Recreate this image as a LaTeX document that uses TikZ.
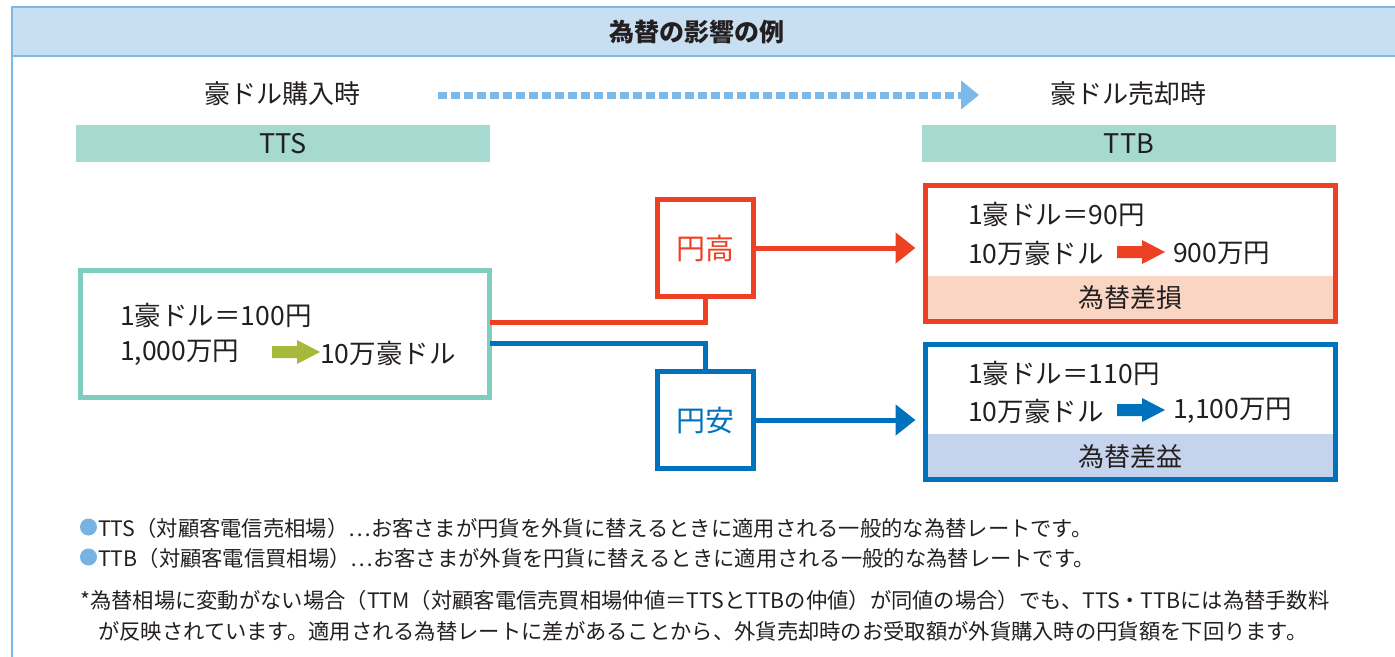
\documentclass[tikz,border=0pt]{standalone}
\usepackage{fontspec}
\setmainfont{Noto Sans CJK JP}
\usetikzlibrary{arrows.meta}
\definecolor{frameblue}{HTML}{7DB9E8}
\definecolor{titlefill}{HTML}{C8DFF1}
\definecolor{tealbar}{HTML}{A6D9CF}
\definecolor{tealline}{HTML}{7FCDBF}
\definecolor{jred}{HTML}{EE4123}
\definecolor{jblue}{HTML}{0071BC}
\definecolor{jgreen}{HTML}{A8B83A}
\definecolor{lossfill}{HTML}{FBD5C3}
\definecolor{gainfill}{HTML}{C5D3EC}
\definecolor{txt}{HTML}{231F20}
\definecolor{bullet}{HTML}{76B3E3}
\tikzset{
  t26/.style={font=\fontsize{26}{30}\selectfont, text=txt, inner sep=0pt},
  t21/.style={font=\fontsize{21.3}{24}\selectfont, text=txt, inner sep=0pt, anchor=west},
  lbl/.style={font=\fontsize{26.5}{30}\selectfont, text=txt, inner sep=0pt, anchor=west},
  redbox/.style={draw=jred, line width=5pt, minimum width=96pt, minimum height=97pt, inner sep=0pt, outer sep=0pt},
  bluebox/.style={draw=jblue, line width=5pt, minimum width=96pt, minimum height=97pt, inner sep=0pt, outer sep=0pt},
  conn/.style={line width=5pt, -{Triangle[length=20pt,width=30pt]}},
}
\newcommand{\fatarrow}[3]{% x-left, y-center, colour
  \fill[#3] (#1,#2-6) -- (#1+25,#2-6) -- (#1+25,#2-12) -- (#1+48,#2) -- (#1+25,#2+12) -- (#1+25,#2+6) -- (#1,#2+6) -- cycle;}
\begin{document}
\begin{tikzpicture}[x=1pt,y=-1pt]
\useasboundingbox (0,0) rectangle (1395,656);
\clip (0,0) rectangle (1395,656);
% frame and title bar
\draw[frameblue, line width=2pt] (12,700) -- (12,7);
\filldraw[fill=titlefill, draw=frameblue, line width=2pt] (12,7) rectangle (1420,56);
\node[font=\fontsize{25}{30}\selectfont\bfseries, text=txt] (title) at (697,32) {為替の影響の例};
% phase labels
\node[t26] (buy) at (282,94) {豪ドル購入時};
\node[t26] (sell) at (1128,94) {豪ドル売却時};
\coordinate (da) at (438,95);
\coordinate (db) at (979,95);
\draw[frameblue, line width=7pt, dash pattern=on 9pt off 4pt, -{Triangle[length=18pt,width=28pt]}] (da) -- (db);
% TTS / TTB bars
\fill[tealbar] (76,125) rectangle (490,162);
\node[font=\fontsize{27}{30}\selectfont, text=txt] (tts) at (283,144) {TTS};
\fill[tealbar] (922,125) rectangle (1336,162);
\node[font=\fontsize{27}{30}\selectfont, text=txt] (ttb) at (1129,144) {TTB};
% left box
\node[draw=tealline, line width=5pt, minimum width=409pt, minimum height=127pt, outer sep=0pt] (L) at (285,334) {};
\node[lbl] (l1) at (120,315) {1豪ドル＝100円};
\node[lbl] (l2a) at (120,353) {1,000万円};
\fatarrow{272}{352}{jgreen}
\node[lbl] (l2b) at (320,353) {10万豪ドル};
% middle boxes
\node[redbox] (H) at (705.5,248) {};
\node[font=\fontsize{29}{32}\selectfont, text=jred] at (H) {円高};
\node[bluebox] (Y) at (705.5,420) {};
\node[font=\fontsize{29}{32}\selectfont, text=jblue] at (Y) {円安};
% connectors from left box
\draw[jred, line width=5pt] ([yshift=12pt]L.east) -| (H.south);
\draw[jblue, line width=5pt] ([yshift=-9pt]L.east) -| (Y.north);
% right boxes
\fill[lossfill] (925,276) rectangle (1336,321);
\node[draw=jred, line width=5pt, minimum width=410pt, minimum height=136pt, outer sep=0pt] (RH) at (1130.5,253.5) {};
\fill[gainfill] (925,434) rectangle (1336,479);
\node[draw=jblue, line width=5pt, minimum width=410pt, minimum height=135pt, outer sep=0pt] (RY) at (1130.5,412) {};
\draw[conn, jred] (H.east) -- ([xshift=-10pt]H.east -| RH.west);
\draw[conn, jblue] (Y.east) -- ([xshift=-10pt]Y.east -| RY.west);
% right red box text
\node[lbl] (r1) at (968,214) {1豪ドル＝90円};
\node[lbl] (r2a) at (968,253) {10万豪ドル};
\fatarrow{1117}{252}{jred}
\node[lbl] (r2b) at (1173,253) {900万円};
\node[t26] (loss) at (1130,298) {為替差損};
% right blue box text
\node[lbl] (b1) at (968,373) {1豪ドル＝110円};
\node[lbl] (b2a) at (968,411) {10万豪ドル};
\fatarrow{1117}{410}{jblue}
\node[lbl] (b2b) at (1173,411) {1,100万円};
\node[t26] (gain) at (1130,457) {為替差益};
% footnotes
\fill[bullet] (88.5,527) circle (8.5pt);
\node[t21] (n1) at (98,528) {TTS（対顧客電信売相場）…お客さまが円貨を外貨に替えるときに適用される一般的な為替レートです。};
\fill[bullet] (88.5,557) circle (8.5pt);
\node[t21] (n2) at (98,558) {TTB（対顧客電信買相場）…お客さまが外貨を円貨に替えるときに適用される一般的な為替レートです。};
\node[t21] (n3) at (80,600) {*為替相場に変動がない場合（TTM（対顧客電信売買相場仲値＝TTSとTTBの仲値）が同値の場合）でも、TTS・TTBには為替手数料};
\node[t21] (n4) at (98,631) {が反映されています。適用される為替レートに差があることから、外貨売却時のお受取額が外貨購入時の円貨額を下回ります。};
\end{tikzpicture}
\end{document}
